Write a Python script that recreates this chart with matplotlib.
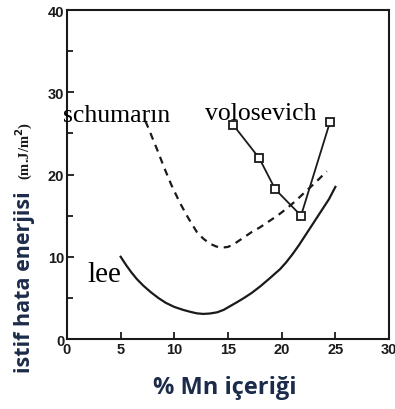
import numpy as np
import matplotlib
matplotlib.use("Agg")
import matplotlib.pyplot as plt
from matplotlib.ticker import MultipleLocator

# values (% Mn, mJ/m^2)
lee_x = [5.0, 5.5, 6.0, 6.5, 7.1, 7.8, 8.5, 9.2, 10.0, 10.8, 11.5, 12.1, 12.7, 13.3, 14.0, 14.6,
         15.2, 15.8, 16.5, 17.2, 18.0, 18.9, 19.85, 20.4, 21.0, 21.6, 22.3, 23.0, 23.7, 24.4, 25.0]
lee_y = [10.0, 9.0, 8.1, 7.3, 6.5, 5.7, 5.0, 4.4, 3.9, 3.55, 3.3, 3.12, 3.05, 3.1, 3.25, 3.55,
         4.0, 4.45, 5.0, 5.6, 6.4, 7.4, 8.5, 9.3, 10.3, 11.4, 12.8, 14.2, 15.6, 17.0, 18.5]

schu_x = [7.3, 7.6, 8.0, 8.5, 9.0, 9.7, 10.5, 11.3, 12.1, 12.7, 13.3, 13.9, 14.4, 15.0, 15.5,
          16.3, 17.2, 18.0, 18.8, 19.6, 20.5, 21.3, 22.2, 23.2, 24.2]
schu_y = [26.5, 25.6, 24.3, 22.7, 21.0, 18.8, 16.6, 14.7, 13.0, 12.2, 11.6, 11.25, 11.1, 11.2, 11.5,
          12.2, 13.0, 13.6, 14.3, 15.0, 15.9, 16.8, 17.9, 19.1, 20.4]

volo_x = [15.5, 17.9, 19.4, 21.8, 24.5]
volo_y = [26.0, 22.0, 18.2, 15.0, 26.4]

xticks = [0, 5, 10, 15, 20, 25, 30]
yticks = [0, 10, 20, 30, 40]

navy = "#1c2b4a"
ink = "#1a1a1a"

fig = plt.figure(figsize=(3.95, 4.10), dpi=100)
ax = fig.add_axes([0.1696, 0.1707, 0.8154, 0.8024])

ax.plot(lee_x, lee_y, color=ink, lw=1.6)
ax.plot(schu_x, schu_y, color=ink, lw=1.6, dashes=(3.2, 2.6))
ax.plot(volo_x, volo_y, color=ink, lw=1.3, marker="s", ms=5.5,
        mfc="white", mec=ink, mew=1.3)

ax.set_xlim(0, 30)
ax.set_ylim(0, 40)
ax.set_xticks(xticks)
ax.set_yticks(yticks)
ax.yaxis.set_minor_locator(MultipleLocator(5))
ax.tick_params(direction="in", length=5, width=1.3, pad=2, colors=ink,
               labelsize=10.5)
ax.tick_params(which="minor", direction="in", length=4, width=1.3, color=ink)
for lab in ax.get_xticklabels() + ax.get_yticklabels():
    lab.set_fontfamily("Liberation Sans")
    lab.set_fontweight("bold")
for s in ax.spines.values():
    s.set_linewidth(1.5)
    s.set_color(ink)

serif = "Liberation Serif"
ax.text(-0.37, 26.5, "schumarın", family=serif, fontsize=18.5, color="black",
        ha="left", va="baseline", clip_on=False, zorder=5)
ax.text(12.86, 26.7, "volosevich", family=serif, fontsize=18.5, color="black",
        ha="left", va="baseline", zorder=5)
ax.text(1.86, 7.05, "lee", family=serif, fontsize=21, color="black",
        ha="left", va="baseline", zorder=5)

W, H = 395, 410
fig.text(25 / W, 1 - 282 / H, "istif hata enerjisi", rotation=90,
         family="Open Sans", weight="bold", fontsize=15.5, color=navy,
         ha="center", va="center")
fig.text(24 / W, 1 - 151 / H, "(m.J/m$^{\\mathbf{2}}$)", rotation=90,
         family=serif, weight="bold", fontsize=10.5, color=ink,
         ha="center", va="center")
fig.text(224.5 / W, 1 - 388 / H, "% Mn içeriği",
         family="Open Sans", weight="bold", fontsize=17, color=navy,
         ha="center", va="center")

fig.savefig("out.png", dpi=100)
